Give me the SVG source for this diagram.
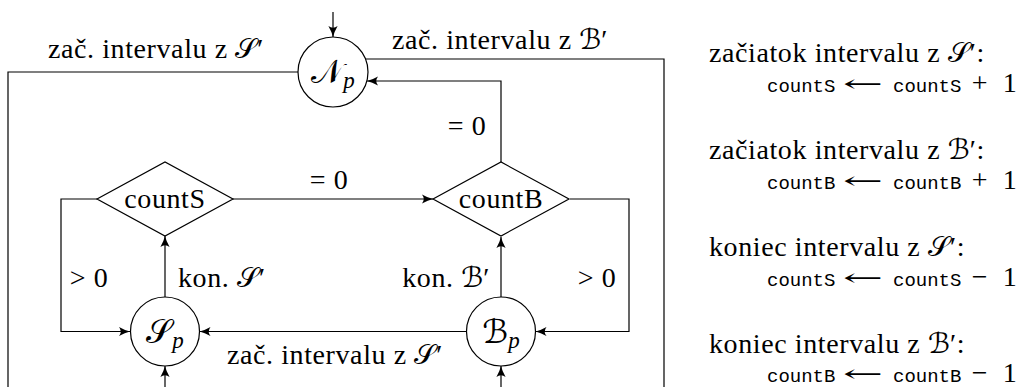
<svg xmlns="http://www.w3.org/2000/svg" width="1020" height="387" viewBox="0 0 1020 387">
<defs>
<marker id="arr" viewBox="-12 -6 13 12" refX="0" refY="0" markerWidth="13" markerHeight="12" markerUnits="userSpaceOnUse" orient="auto">
<path d="M0,0 Q-5,-1.2 -11,-4.6 Q-7.5,0 -11,4.6 Q-5,1.2 0,0 Z" fill="#000"/>
</marker>
</defs>
<style>
.ln{fill:none;stroke:#000;stroke-width:1.2}
.ar{fill:none;stroke:#000;stroke-width:1.2;marker-end:url(#arr)}
.nd{fill:#fff;stroke:#000;stroke-width:1.2}
.t{font-family:'Liberation Serif','Times New Roman',serif;font-size:28px;letter-spacing:0.6px;fill:#000}
.sc{font-family:'DejaVu Sans',sans-serif;font-style:normal;letter-spacing:0}
.big{font-family:'Liberation Serif',serif;font-size:33px;fill:#000}
.sub{font-family:'Liberation Serif',serif;font-size:23px;font-style:italic}
.tt{font-family:'Liberation Mono',monospace;font-size:19px;fill:#000}
.arw{font-family:'DejaVu Serif',serif;font-size:24px;fill:#000}
</style>
<g id="connectors">
<path class="ar" d="M333,12 V37"/>
<path class="ln" d="M298,72 H8 V387"/>
<path class="ln" d="M365.5,59 H664 V387"/>
<path class="ar" d="M501,162 V81 H367"/>
<path class="ar" d="M233,199 H433"/>
<path class="ar" d="M97,199 H61 V331.5 H130"/>
<path class="ar" d="M570,199 H629 V331.5 H535.5"/>
<path class="ar" d="M165,297 V236"/>
<path class="ar" d="M501,297 V237"/>
<path class="ar" d="M466.5,331.5 H199.5"/>
<path class="ar" d="M165,387 V366"/>
<path class="ar" d="M501,387 V366"/>
<text class="t" x="156" y="58" text-anchor="middle">zač. intervalu z <tspan class="sc">𝒮</tspan>′</text>
<text class="t" x="500" y="49" text-anchor="middle">zač. intervalu z <tspan class="sc">ℬ</tspan>′</text>
<text class="t" x="335" y="364" text-anchor="middle">zač. intervalu z <tspan class="sc">𝒮</tspan>′</text>
<text class="t" x="467" y="135" text-anchor="middle">= 0</text>
<text class="t" x="329" y="189" text-anchor="middle">= 0</text>
<text class="t" x="89" y="287" text-anchor="middle">&gt; 0</text>
<text class="t" x="597" y="287" text-anchor="middle">&gt; 0</text>
<text class="t" x="178" y="287">kon. <tspan class="sc">𝒮</tspan>′</text>
<text class="t" x="490" y="287" text-anchor="end">kon. <tspan class="sc">ℬ</tspan>′</text>
</g>
<g id="Np">
<circle class="nd" cx="333" cy="72" r="35"/>
<text class="big" x="333" y="83" text-anchor="middle"><tspan class="sc">𝒩</tspan><tspan class="sub" dy="5">p</tspan></text>
</g>
<g id="Sp">
<circle class="nd" cx="165" cy="331.5" r="34.5"/>
<text class="big" x="165" y="343" text-anchor="middle"><tspan class="sc">𝒮</tspan><tspan class="sub" dy="5">p</tspan></text>
</g>
<g id="Bp">
<circle class="nd" cx="501" cy="331.5" r="34.5"/>
<text class="big" x="501" y="343" text-anchor="middle"><tspan class="sc">ℬ</tspan><tspan class="sub" dy="5">p</tspan></text>
</g>
<g id="countS">
<path class="nd" d="M97,199 L165,162 L233,199 L165,236 Z"/>
<text class="t" x="165" y="208" text-anchor="middle">countS</text>
</g>
<g id="countB">
<path class="nd" d="M433,199 L501,162 L569,199 L501,236 Z"/>
<text class="t" x="501" y="208" text-anchor="middle">countB</text>
</g>
<g id="legend">
<text class="t" x="709" y="62">začiatok intervalu z <tspan class="sc">𝒮</tspan>′:</text>
<text class="tt" x="767" y="92">countS</text><text class="arw" x="843" y="92" textLength="40" lengthAdjust="spacingAndGlyphs">←</text><text class="tt" x="893" y="92">countS</text><text class="t" x="980" y="92" text-anchor="middle">+</text><text class="t" x="1010" y="92" text-anchor="middle">1</text>
<text class="t" x="709" y="159">začiatok intervalu z <tspan class="sc">ℬ</tspan>′:</text>
<text class="tt" x="767" y="189">countB</text><text class="arw" x="843" y="189" textLength="40" lengthAdjust="spacingAndGlyphs">←</text><text class="tt" x="893" y="189">countB</text><text class="t" x="980" y="189" text-anchor="middle">+</text><text class="t" x="1010" y="189" text-anchor="middle">1</text>
<text class="t" x="709" y="256">koniec intervalu z <tspan class="sc">𝒮</tspan>′:</text>
<text class="tt" x="767" y="286">countS</text><text class="arw" x="843" y="286" textLength="40" lengthAdjust="spacingAndGlyphs">←</text><text class="tt" x="893" y="286">countS</text><text class="t" x="980" y="286" text-anchor="middle">−</text><text class="t" x="1010" y="286" text-anchor="middle">1</text>
<text class="t" x="709" y="353">koniec intervalu z <tspan class="sc">ℬ</tspan>′:</text>
<text class="tt" x="767" y="382">countB</text><text class="arw" x="843" y="382" textLength="40" lengthAdjust="spacingAndGlyphs">←</text><text class="tt" x="893" y="382">countB</text><text class="t" x="980" y="382" text-anchor="middle">−</text><text class="t" x="1010" y="382" text-anchor="middle">1</text>
</g>
</svg>
